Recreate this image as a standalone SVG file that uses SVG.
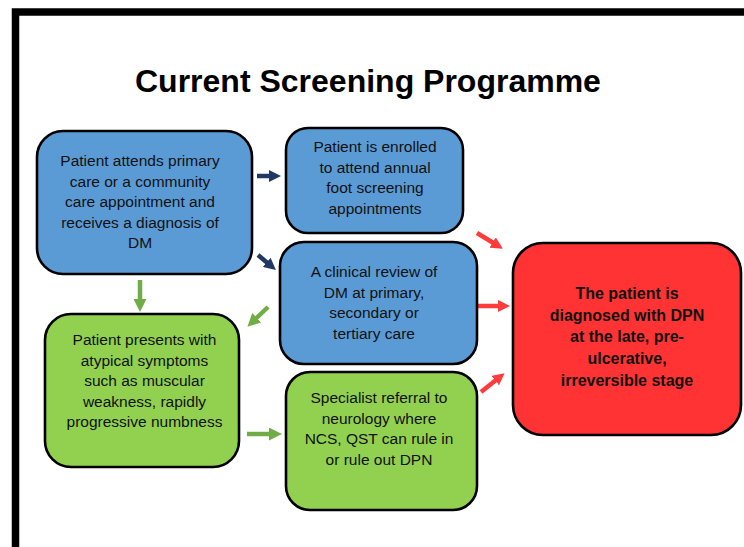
<svg xmlns="http://www.w3.org/2000/svg" width="744" height="547" viewBox="0 0 744 547">
<style>
.box{stroke:#000;stroke-width:2.6}
.blue{fill:#5B9BD5}
.green{fill:#92D050}
.red{fill:#FF3333}
.t{font-family:"Liberation Sans",Arial,sans-serif;font-size:15.5px;fill:#111;text-anchor:middle}
.tb{font-family:"Liberation Sans",Arial,sans-serif;font-size:16px;font-weight:bold;fill:#111;text-anchor:middle}
.title{font-family:"Liberation Sans",Arial,sans-serif;font-size:32px;font-weight:bold;fill:#000}
.a{stroke-width:4.5;fill:none}
.an{stroke:#1F3864}
.ag{stroke:#70AD47}
.ar{stroke:#FF3B3B}
</style>
<defs>
<marker id="hn" markerUnits="userSpaceOnUse" markerWidth="12" markerHeight="12" viewBox="0 0 12 12" refX="1" refY="6" orient="auto"><path d="M0,0 L12,6 L0,12 z" fill="#1F3864"/></marker>
<marker id="hg" markerUnits="userSpaceOnUse" markerWidth="13" markerHeight="13" viewBox="0 0 12 12" refX="1" refY="6" orient="auto"><path d="M0,0 L12,6 L0,12 z" fill="#70AD47"/></marker>
<marker id="hr" markerUnits="userSpaceOnUse" markerWidth="12" markerHeight="12" viewBox="0 0 12 12" refX="1" refY="6" orient="auto"><path d="M0,0 L12,6 L0,12 z" fill="#FF3B3B"/></marker>
</defs>
<rect width="744" height="547" fill="#fff"/>
<path d="M15.5,547 V12 H744" fill="none" stroke="#000" stroke-width="7.5"/>
<text class="title" x="135" y="92">Current Screening Programme</text>

<g id="connectors">
<line class="a an" x1="257" y1="176" x2="270" y2="176" marker-end="url(#hn)"/>
<line class="a an" x1="258" y1="255" x2="267.5" y2="263" marker-end="url(#hn)"/>
<line class="a ag" x1="140" y1="280" x2="140" y2="300" marker-end="url(#hg)"/>
<line class="a ag" x1="268" y1="307" x2="256" y2="318.5" marker-end="url(#hg)"/>
<line class="a ag" x1="247" y1="434" x2="270" y2="434" marker-end="url(#hg)"/>
<line class="a ar" x1="477" y1="233" x2="493.5" y2="243" marker-end="url(#hr)"/>
<line class="a ar" x1="478" y1="306" x2="499" y2="306" marker-end="url(#hr)"/>
<line class="a ar" x1="481" y1="392" x2="496" y2="380" marker-end="url(#hr)"/>
</g>

<g id="n1">
<rect class="box blue" x="37" y="131" width="215" height="143" rx="26"/>
<text class="t"><tspan x="140" y="166">Patient attends primary</tspan><tspan x="140" y="186.5">care or a community</tspan><tspan x="140" y="207">care appointment and</tspan><tspan x="140" y="227.5">receives a diagnosis of</tspan><tspan x="140" y="248">DM</tspan></text>
</g>
<g id="n2">
<rect class="box blue" x="286" y="128" width="177" height="105" rx="22"/>
<text class="t"><tspan x="375" y="152">Patient is enrolled</tspan><tspan x="375" y="172.5">to attend annual</tspan><tspan x="375" y="193">foot screening</tspan><tspan x="375" y="213.5">appointments</tspan></text>
</g>
<g id="n3">
<rect class="box blue" x="280" y="242" width="197" height="122" rx="24"/>
<text class="t"><tspan x="374" y="277">A clinical review of</tspan><tspan x="374" y="297.5">DM at primary,</tspan><tspan x="374" y="318">secondary or</tspan><tspan x="374" y="338.5">tertiary care</tspan></text>
</g>
<g id="n4">
<rect class="box green" x="45" y="314" width="194" height="153" rx="26"/>
<text class="t"><tspan x="144.5" y="345">Patient presents with</tspan><tspan x="144.5" y="365.5">atypical symptoms</tspan><tspan x="144.5" y="386">such as muscular</tspan><tspan x="144.5" y="406.5">weakness, rapidly</tspan><tspan x="144.5" y="427">progressive numbness</tspan></text>
</g>
<g id="n5">
<rect class="box green" x="286" y="372" width="191" height="138" rx="24"/>
<text class="t"><tspan x="379" y="403">Specialist referral to</tspan><tspan x="379" y="423.5">neurology where</tspan><tspan x="379" y="444">NCS, QST can rule in</tspan><tspan x="379" y="464.5">or rule out DPN</tspan></text>
</g>
<g id="n6">
<rect class="box red" x="513" y="243" width="228" height="192" rx="30"/>
<text class="tb"><tspan x="627" y="299">The patient is</tspan><tspan x="627" y="320.5">diagnosed with DPN</tspan><tspan x="627" y="342">at the late, pre-</tspan><tspan x="627" y="364">ulcerative,</tspan><tspan x="627" y="386">irreversible stage</tspan></text>
</g>
</svg>
